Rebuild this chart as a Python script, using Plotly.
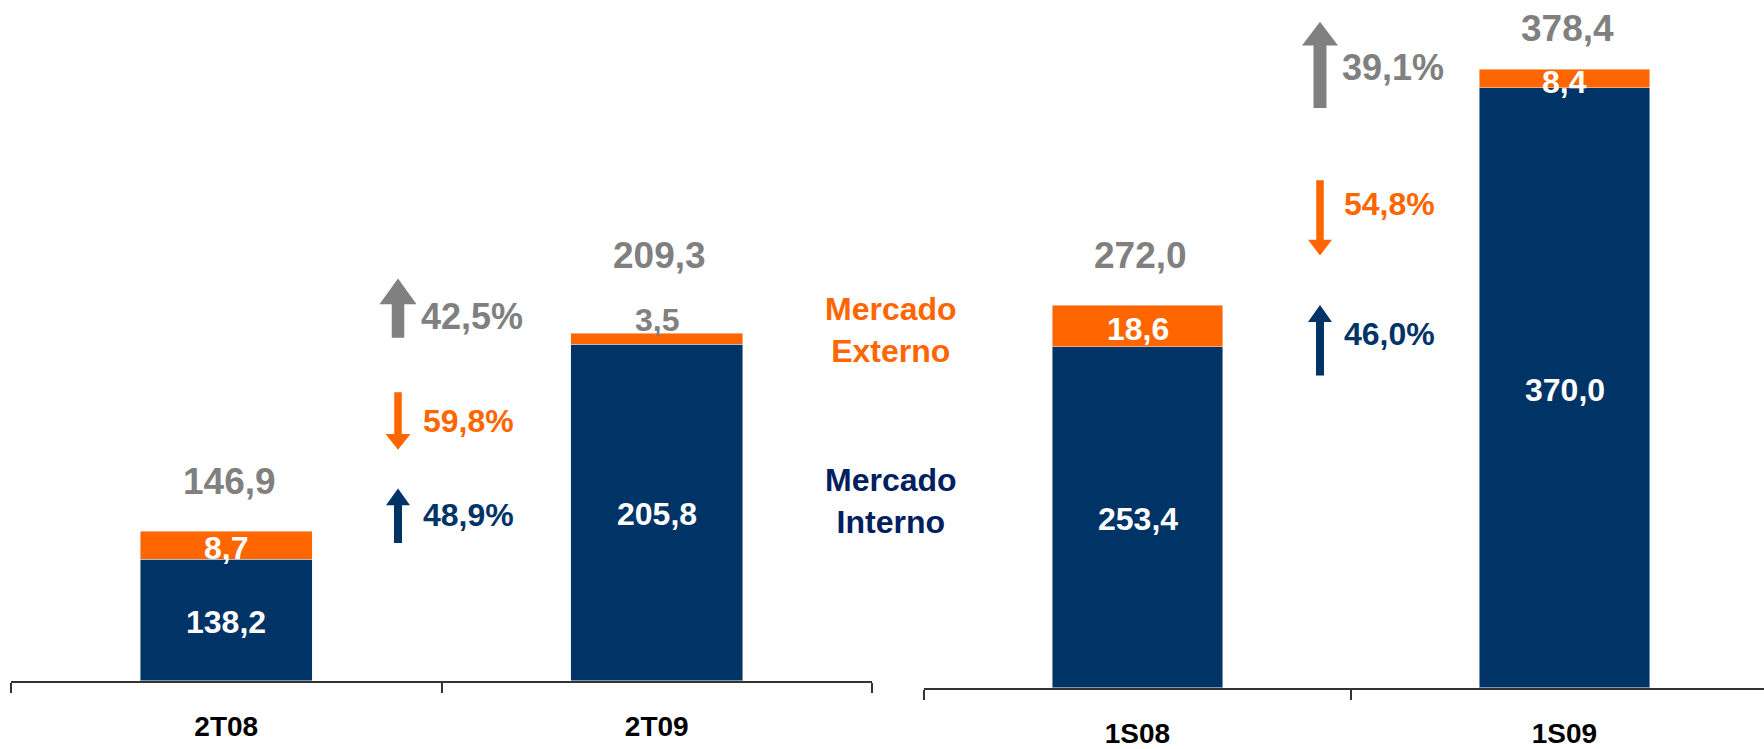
import plotly.graph_objects as go

# ---------------- data ----------------
cats_q = ["2T08", "2T09"]
interno_q = [138.2, 205.8]
externo_q = [8.7, 3.5]
total_q = [146.9, 209.3]
growth_q = ["42,5%", "59,8%", "48,9%"]   # total, externo (down), interno (up)

cats_s = ["1S08", "1S09"]
interno_s = [253.4, 370.0]
externo_s = [18.6, 8.4]
total_s = [272.0, 378.4]
growth_s = ["39,1%", "54,8%", "46,0%"]

# ---------------- style ----------------
W, H = 1764, 749
NAVY = "#003366"
NAVY_TXT = "#002060"
ORANGE = "#FF6600"
GRAY = "#808080"
FONT = "Liberation Sans, Arial, sans-serif"
AX_MIN = 100

def px(x):
    return x / W

def py(y):
    return 1 - y / H

fig = go.Figure()

panels = [
    dict(cats=cats_q, interno=interno_q, externo=externo_q, total=total_q,
         xa="x", ya="y", lift=[50, 78]),
    dict(cats=cats_s, interno=interno_s, externo=externo_s, total=total_s,
         xa="x2", ya="y2", lift=[50, 41]),
]

def fmt(v):
    return f"{v:.1f}".replace(".", ",")

annotations = []
for p in panels:
    fig.add_trace(go.Bar(x=p["cats"], y=p["interno"], marker_color=NAVY,
                         width=0.4, xaxis=p["xa"], yaxis=p["ya"],
                         showlegend=False, hoverinfo="skip"))
    fig.add_trace(go.Bar(x=p["cats"], y=p["externo"], marker_color=ORANGE,
                         width=0.4, xaxis=p["xa"], yaxis=p["ya"],
                         showlegend=False, hoverinfo="skip"))
    for i, c in enumerate(p["cats"]):
        ni, ne, tt = p["interno"][i], p["externo"][i], p["total"][i]
        annotations.append(dict(x=c, y=(AX_MIN + ni) / 2, xref=p["xa"], yref=p["ya"],
                                text=f"<b>{fmt(ni)}</b>", showarrow=False,
                                yanchor="middle",
                                font=dict(family=FONT, size=32, color="white"),
                                yshift=-2))
        if ne < 5:
            annotations.append(dict(x=c, y=tt, xref=p["xa"], yref=p["ya"],
                                    text=f"<b>{fmt(ne)}</b>", showarrow=False,
                                    yanchor="middle",
                                    font=dict(family=FONT, size=32, color=GRAY),
                                    yshift=13))
        else:
            annotations.append(dict(x=c, y=ni + ne / 2, xref=p["xa"], yref=p["ya"],
                                    text=f"<b>{fmt(ne)}</b>", showarrow=False,
                                    yanchor="middle",
                                    font=dict(family=FONT, size=32, color="white"),
                                    yshift=-3))
        annotations.append(dict(x=c, y=tt, xref=p["xa"], yref=p["ya"],
                                text=f"<b>{fmt(tt)}</b>", showarrow=False,
                                yanchor="middle",
                                font=dict(family=FONT, size=37, color=GRAY),
                                yshift=p["lift"][i], xshift=3))

# growth texts
growth_layout = [
    (growth_q, [(419, 319, 36, GRAY), (421, 425, 32, ORANGE), (421, 520, 32, NAVY)]),
    (growth_s, [(1340, 68, 36, GRAY), (1342, 206, 32, ORANGE), (1342, 337, 32, NAVY)]),
]
for labels, pos in growth_layout:
    for lab, (x, y, s, col) in zip(labels, pos):
        annotations.append(dict(x=px(x), y=py(y), xref="paper", yref="paper",
                                text=f"<b>{lab}</b>", showarrow=False,
                                xanchor="left", yanchor="middle",
                                font=dict(family=FONT, size=s, color=col)))

# legend-like labels
annotations.append(dict(x=px(891), y=py(333), xref="paper", yref="paper",
                        text="<b>Mercado<br>Externo</b>", showarrow=False,
                        xanchor="center", yanchor="middle",
                        font=dict(family=FONT, size=32, color=ORANGE)))
annotations.append(dict(x=px(891), y=py(506), xref="paper", yref="paper",
                        text="<b>Mercado<br>Interno</b>", showarrow=False,
                        xanchor="center", yanchor="middle",
                        font=dict(family=FONT, size=32, color=NAVY_TXT)))

# arrows as polygons
def arrow(cx, top, bot, sw, hw, hh, up, color):
    if up:
        pts = [(cx - sw / 2, bot), (cx - sw / 2, top + hh), (cx - hw / 2, top + hh),
               (cx, top), (cx + hw / 2, top + hh), (cx + sw / 2, top + hh),
               (cx + sw / 2, bot)]
    else:
        pts = [(cx - sw / 2, top), (cx - sw / 2, bot - hh), (cx - hw / 2, bot - hh),
               (cx, bot), (cx + hw / 2, bot - hh), (cx + sw / 2, bot - hh),
               (cx + sw / 2, top)]
    path = "M " + " L ".join(f"{px(a):.5f},{py(b):.5f}" for a, b in pts) + " Z"
    return dict(type="path", xref="paper", yref="paper", path=path,
                fillcolor=color, line=dict(width=0))

shapes = [
    arrow(398, 281, 341, 12.5, 37, 26, True, GRAY),
    arrow(398, 396, 454, 7.5, 25, 16, False, ORANGE),
    arrow(398, 493, 548, 8, 24, 17, True, NAVY),
    arrow(1320, 22, 109, 13, 36, 24, True, GRAY),
    arrow(1320, 182, 258, 7.5, 24, 16, False, ORANGE),
    arrow(1320, 308, 379, 8, 24, 17, True, NAVY),
]

xcommon = dict(type="category", showline=True, linecolor="#333333", linewidth=2,
               ticks="outside", ticklen=10, tickwidth=2, tickcolor="#333333",
               tickson="boundaries", showgrid=False, zeroline=False,
               tickfont=dict(family=FONT, size=28, color="black"),
               ticklabelstandoff=20, fixedrange=True)
ycommon = dict(visible=False, showgrid=False, zeroline=False, fixedrange=True)

BASE_Q, BASE_S = 687, 694   # y pixel of the two baselines
fig.update_layout(
    width=W, height=H, margin=dict(l=0, r=0, t=0, b=0),
    paper_bgcolor="white", plot_bgcolor="white",
    barmode="stack", bargap=0.6, showlegend=False,
    xaxis=dict(domain=[px(11), px(872)], range=[-0.5, 1.5],
               tickvals=cats_q, ticktext=[f"<b>{c}</b>" for c in cats_q], **xcommon),
    xaxis2=dict(domain=[px(924), 1], range=[-0.5, -0.5 + (W - 924) / 427], anchor="y2",
                tickvals=cats_s, ticktext=[f"<b>{c}</b>" for c in cats_s], **xcommon),
    yaxis=dict(domain=[py(BASE_Q), 1],
               range=[AX_MIN, AX_MIN + BASE_Q / 3.21], **ycommon),
    yaxis2=dict(domain=[py(BASE_S), 1],
                range=[AX_MIN, AX_MIN + BASE_S / 2.242], anchor="x2", **ycommon),
    annotations=annotations, shapes=shapes,
)

fig.write_html("out.html",
               config={"displayModeBar": False, "staticPlot": True},
               post_script="document.body.style.margin='0px';"
                           "document.body.style.overflow='hidden';")
